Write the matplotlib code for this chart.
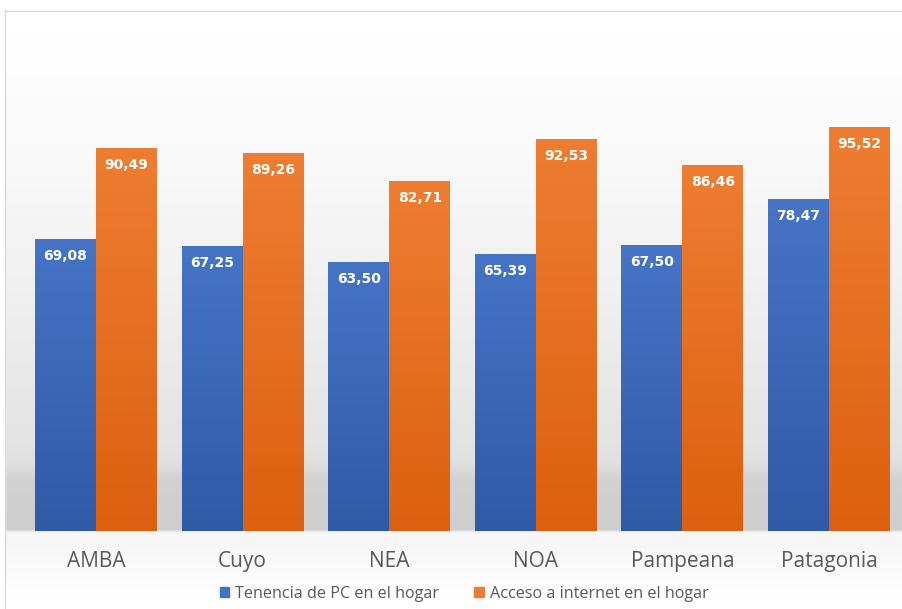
import numpy as np
import matplotlib
matplotlib.use("Agg")
import matplotlib.pyplot as plt
from matplotlib.colors import LinearSegmentedColormap
from matplotlib.patches import Patch

regiones = ["AMBA", "Cuyo", "NEA", "NOA", "Pampeana", "Patagonia"]
tenencia_pc = [69.08, 67.25, 63.50, 65.39, 67.50, 78.47]
acceso_internet = [90.49, 89.26, 82.71, 92.53, 86.46, 95.52]
serie_nombres = ["Tenencia de PC en el hogar", "Acceso a internet en el hogar"]

W, H = 903, 609
fig = plt.figure(figsize=(W / 100, H / 100), dpi=100)

# fondo con degradado y sombra de piso
bg = fig.add_axes([0, 0, 1, 1], zorder=-5)
rows = np.arange(H)
prof = np.interp(rows, [10, 150, 300, 450, 462, 480, 529, 532, 560, 609],
                 [1.0, 0.975, 0.935, 0.885, 0.875, 0.815, 0.805, 0.96, 0.975, 1.0])
img = np.repeat(prof[:, None], W, axis=1)
bg.imshow(img, cmap="gray", vmin=0, vmax=1, extent=(0, W, H, 0), aspect="auto")
bg.fill_between([0, W], 0, 10, color="white", zorder=2)
bg.fill_between([0, 5], 0, H, color="white", zorder=2)
bg.plot([5.5, 5.5], [10, H], color="#d9d9d9", lw=1, zorder=3)
bg.plot([5.5, W], [10.5, 10.5], color="#d9d9d9", lw=1, zorder=3)
bg.set_xlim(0, W)
bg.set_ylim(H, 0)
bg.axis("off")

ax = fig.add_axes([22.7 / W, (H - 531) / H, (902.3 - 22.7) / W, 465.5 / H])
ax.patch.set_alpha(0)
x = np.arange(len(regiones))
bw = 0.416

azul = LinearSegmentedColormap.from_list("az", ["#2f5aa6", "#4674c6"])
naranja = LinearSegmentedColormap.from_list("na", ["#dc600f", "#ee7d32"])
grad = np.linspace(0, 1, 100)[:, None]

for vals, off, cmap in [(tenencia_pc, -bw / 2, azul), (acceso_internet, bw / 2, naranja)]:
    bars = ax.bar(x + off, vals, bw, color="none", edgecolor="none")
    for b, v in zip(bars, vals):
        x0 = b.get_x()
        im = ax.imshow(grad, cmap=cmap, origin="lower", aspect="auto",
                       extent=(x0, x0 + bw, 0, v), zorder=2)
        im.set_clip_path(b)
        ax.text(x0 + bw / 2, v - 4.0, f"{v:.2f}".replace(".", ","),
                ha="center", va="center", color="white", fontsize=10,
                fontweight="bold", zorder=3)

ax.set_xlim(-0.5, len(regiones) - 0.5)
ax.set_ylim(0, 110)
ax.set_xticks(x)
ax.set_xticklabels(regiones, fontsize=15, color="#595959", family="Open Sans")
ax.tick_params(axis="x", length=0, pad=14.5)
ax.set_yticks([])
for s in ax.spines.values():
    s.set_visible(False)

handles = [Patch(color="#4472c4"), Patch(color="#ed7d31")]
leg = fig.legend(handles, serie_nombres, loc="center", bbox_to_anchor=(0.514, (H - 594) / H),
                 ncol=2, frameon=False, handlelength=0.6, handleheight=0.6,
                 handletextpad=0.35, columnspacing=2.2,
                 prop={"family": "Open Sans", "size": 11.6})
for t in leg.get_texts():
    t.set_color("#595959")

fig.savefig("out.png", dpi=100)
